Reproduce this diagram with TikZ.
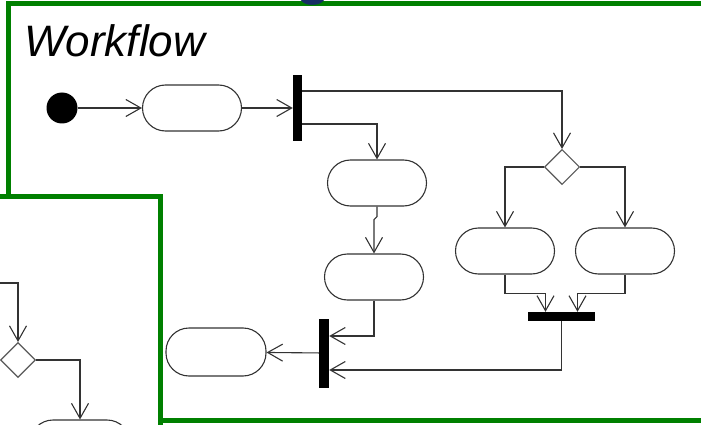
\documentclass[tikz,border=0pt]{standalone}
\usepackage{fontspec}
\setmainfont{Liberation Sans}
\usetikzlibrary{arrows.meta,shapes.geometric}
\definecolor{frgreen}{RGB}{0,128,0}
\definecolor{ttlnavy}{RGB}{22,45,100}
\begin{document}
\begin{tikzpicture}[x=1pt,y=-1pt,
    act/.style={draw=black!80,line width=1.1pt,rounded corners=23pt,minimum width=99pt,minimum height=46pt,inner sep=0pt},
    bar/.style={fill=black,inner sep=0pt},
    dec/.style={diamond,draw=black!65,line width=1.1pt,minimum width=35pt,minimum height=35pt,inner sep=0pt},
    arr/.style={draw=black!80,line width=1.1pt,-{Straight Barb[length=15pt,width=17pt]}},
    frame/.style={draw=frgreen,line width=5pt}]
    \useasboundingbox (0,0) rectangle (701,425);

    % Frame and title
    \draw[frame] (8,4) rectangle (730,420.5);
    \node[anchor=base,text=ttlnavy,font=\bfseries\fontsize{56}{56}\selectfont] (ttl) at (314,-6) {g};
    \node[anchor=base west,inner sep=0pt,font=\itshape\fontsize{44}{44}\selectfont] (wf) at (24,57) {Workflow};

    % Nodes
    \node[circle,fill=black,minimum size=31pt,inner sep=0pt] (start) at (62,108) {};
    \node[act] (act1) at (192,108) {};
    \node[bar,minimum width=9pt,minimum height=66pt] (fork1) at (297.5,108) {};
    \node[dec] (dec1) at (562,167) {};
    \node[act] (act2) at (377,183) {};
    \node[act] (act3) at (374,277) {};
    \node[act] (act4) at (505,251) {};
    \node[act] (act5) at (625,251) {};
    \node[bar,minimum width=67pt,minimum height=9pt] (join1) at (561.5,316.5) {};
    \node[bar,minimum width=10pt,minimum height=69pt] (join2) at (324,353) {};
    \node[act,minimum width=100pt,minimum height=48pt] (act6) at (216,352) {};

    % Connectors
    \draw[arr] (start) -- (act1);
    \draw[arr] (act1) -- (fork1);
    \draw[arr] ([yshift=17pt]fork1.east) -| (dec1.north);
    \draw[arr] ([yshift=-16pt]fork1.east) -| (act2.north);
    \draw[arr] (act2.south) -- ++(0,10) -- ++(-3,3) -- (act3.north);
    \draw[arr] (act3.south) |- ([yshift=17pt]join2.east);
    \draw[arr] (dec1.west) -| (act4.north);
    \draw[arr] (dec1.east) -| (act5.north);
    \draw[arr] (act4.south) |- ([xshift=-16pt,yshift=18pt]join1.north) -- ([xshift=-16pt]join1.north);
    \draw[arr] (act5.south) |- ([xshift=16pt,yshift=18pt]join1.north) -- ([xshift=16pt]join1.north);
    \draw[arr] (join1.south) |- ([yshift=-17pt]join2.east);
    \draw[arr] (join2) -- (act6);

    % Second frame
    \draw[frame,fill=white] (-20,196.5) rectangle (160,460);
    \coordinate (entry) at (-5,283);
    \node[dec] (dec2) at (18,360) {};
    \node[act,minimum width=100pt] (act7) at (80,443) {};
    \draw[arr] (entry) -| (dec2.north);
    \draw[arr] (dec2.east) -| (act7.north);
\end{tikzpicture}
\end{document}
